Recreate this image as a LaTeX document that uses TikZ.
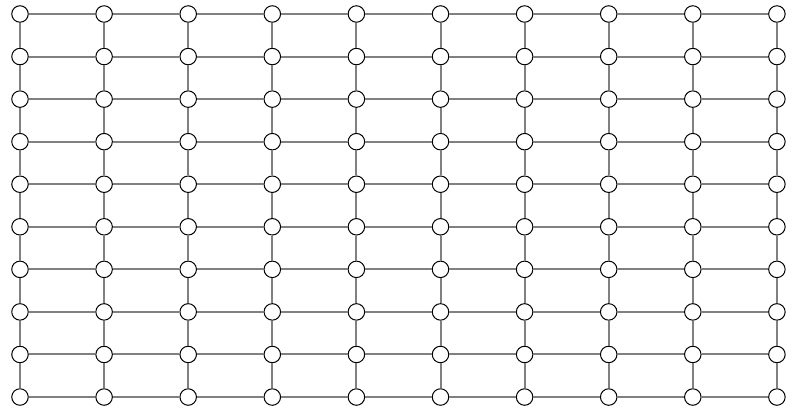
\documentclass[tikz,border=0pt]{standalone}
\begin{document}
\begin{tikzpicture}[x=1pt,y=1pt,
    vertex/.style={circle, draw=black, fill=white, line width=1pt, minimum size=16.5pt, inner sep=0pt},
    link/.style={draw=black!50, line width=2pt}]
    % Grid: 10 columns x 10 rows, spacing 84.1 by 42.56
    \def\dx{84.1}
    \def\dy{42.56}
    \useasboundingbox (0,0) rectangle (798,411);

    % Vertices
    \foreach \i in {0,...,9} {
      \foreach \j in {0,...,9} {
        \node[vertex] (v-\i-\j) at (20+\i*\dx, 397-\j*\dy) {};
      }
    }

    % Horizontal links
    \foreach \i [count=\ni] in {0,...,8} {
      \foreach \j in {0,...,9} {
        \draw[link] (v-\i-\j) -- (v-\ni-\j);
      }
    }
    % Vertical links
    \foreach \i in {0,...,9} {
      \foreach \j [count=\nj] in {0,...,8} {
        \draw[link] (v-\i-\j) -- (v-\i-\nj);
      }
    }
  \end{tikzpicture}
\end{document}
